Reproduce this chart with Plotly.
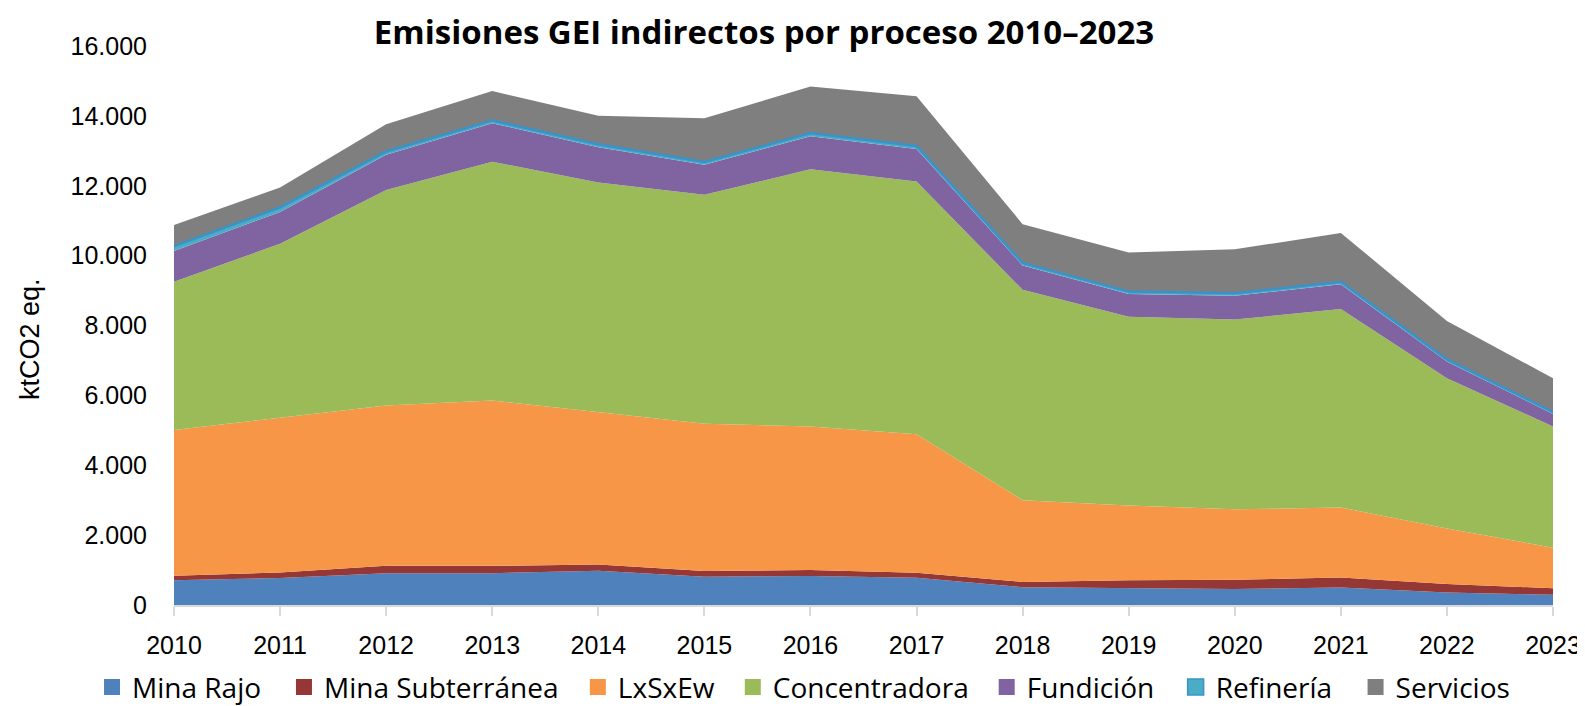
import plotly.graph_objects as go

years = list(range(2010, 2024))

mina_rajo = [710, 770, 910, 910, 980, 810, 830, 780, 510, 480, 460, 500, 360, 290]
mina_subterranea = [130, 160, 210, 210, 180, 160, 170, 140, 150, 230, 260, 290, 240, 190]
lxsxew = [4170, 4420, 4590, 4730, 4360, 4220, 4110, 3970, 2340, 2140, 2020, 2000, 1590, 1160]
concentradora = [4240, 4990, 6170, 6840, 6570, 6550, 7360, 7230, 6020, 5400, 5430, 5680, 4300, 3470]
fundicion = [880, 910, 1010, 1100, 1010, 860, 950, 930, 700, 650, 680, 710, 480, 360]
refineria = [140, 130, 90, 80, 90, 80, 90, 90, 70, 70, 70, 70, 60, 50]
servicios = [610, 570, 780, 840, 810, 1250, 1330, 1420, 1110, 1120, 1260, 1400, 1100, 970]

series = [
    ("Mina Rajo", mina_rajo, "#4F81BD"),
    ("Mina Subterránea", mina_subterranea, "#953735"),
    ("LxSxEw", lxsxew, "#F79646"),
    ("Concentradora", concentradora, "#9BBB59"),
    ("Fundición", fundicion, "#8064A2"),
    ("Refinería", refineria, "#4BACC6"),
    ("Servicios", servicios, "#7F7F7F"),
]

AX_FONT = "Liberation Sans, Arial, sans-serif"
LEG_FONT = "Open Sans, sans-serif"
REF_LINE = "#3A93C8"

# page body has an 8px default margin; figure sized to fill the rest
OFF = 8
W, H = 1585 - OFF, 706 - OFF
L, R, T, B = 174 - OFF, 31.5, 45.5 - OFF, 100.5
pw = W - L - R
ph = H - T - B

# legend swatch left edges (page px)
swatch_left = [104, 296, 590, 745, 999, 1188, 1368]

fig = go.Figure()
for name, vals, col in series:
    is_ref = name == "Refinería"
    fig.add_trace(go.Scatter(
        x=years, y=vals, name=name, mode="lines",
        stackgroup="one", fillcolor=col, showlegend=False,
        line=dict(color=REF_LINE if is_ref else col, width=2.5 if is_ref else 0),
    ))

legend_layouts = {}
for i, (name, vals, col) in enumerate(series):
    is_ref = name == "Refinería"
    lg = "legend" if i == 0 else f"legend{i + 1}"
    fig.add_trace(go.Scatter(
        x=[None], y=[None], name=name, mode="markers",
        marker=dict(symbol="square", size=18, color=col,
                    line=dict(color=REF_LINE if is_ref else col, width=1.5 if is_ref else 0)),
        showlegend=True, legend=lg,
    ))
    fx = swatch_left[i] - 12 - OFF
    legend_layouts[lg] = dict(
        orientation="h", x=(fx - L) / pw, xanchor="left",
        y=(605.5 - 688) / ph, yanchor="middle",
        font=dict(family=LEG_FONT, size=28, color="#000000"),
        bgcolor="rgba(0,0,0,0)", borderwidth=0,
    )

fig.update_layout(
    width=W, height=H,
    margin=dict(l=L, r=R, t=T, b=B, autoexpand=False),
    paper_bgcolor="white", plot_bgcolor="white",
    separators=",.",
    font=dict(family=AX_FONT, size=25, color="#000000"),
    title=dict(
        text="<b>Emisiones GEI indirectos por proceso 2010–2023</b>",
        x=(764 - OFF) / W, xanchor="center", xref="container",
        y=1 - 24 / H, yanchor="middle", yref="container",
        font=dict(family=LEG_FONT, size=33, color="#000000"),
    ),
    showlegend=True,
    xaxis=dict(
        range=[2010, 2023], tickmode="array", tickvals=years,
        ticktext=[str(y) for y in years],
        showgrid=False, zeroline=False,
        showline=True, linecolor="#D9D9D9", linewidth=1.5,
        ticks="outside", ticklen=9, tickcolor="#D9D9D9", tickwidth=1.5,
        ticklabelstandoff=8,
        tickfont=dict(family=AX_FONT, size=25),
    ),
    yaxis=dict(
        range=[0, 16000], tickmode="array",
        tickvals=[0, 2000, 4000, 6000, 8000, 10000, 12000, 14000, 16000],
        tickformat=",.0f",
        showgrid=False, zeroline=False, showline=False, ticks="",
        ticklabelstandoff=26,
        tickfont=dict(family=AX_FONT, size=25),
    ),
    annotations=[dict(
        text="ktCO2 eq.", textangle=-90,
        xref="paper", yref="paper",
        x=(30 - OFF - L) / pw, y=(605.5 - 339) / ph,
        xanchor="center", yanchor="middle", showarrow=False,
        font=dict(family=AX_FONT, size=27, color="#000000"),
    )],
    **legend_layouts,
)

fig.write_html("out.html")
